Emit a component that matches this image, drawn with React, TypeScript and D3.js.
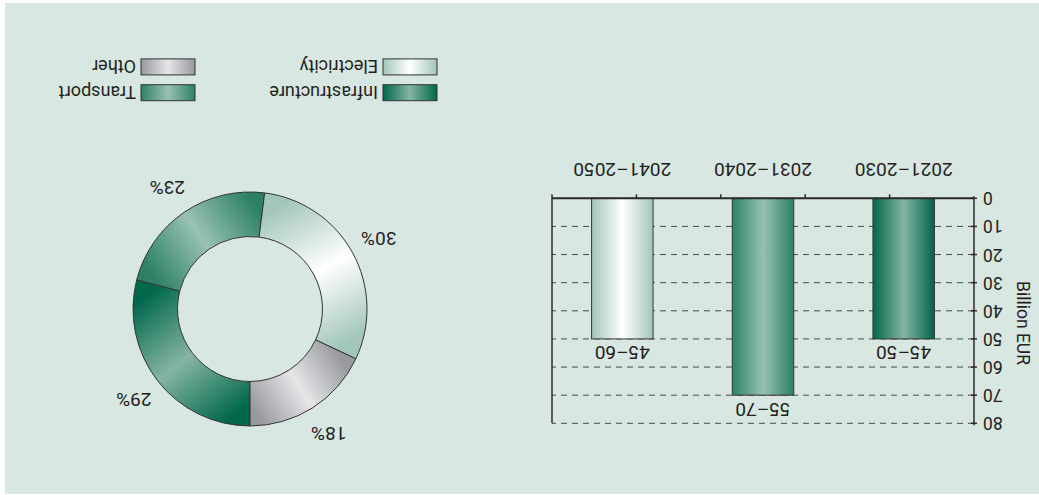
import React from "react";
import * as d3 from "d3";

// Bar chart: investment per decade (Billion EUR)
const periods = ["2021–2030", "2031–2040", "2041–2050"];
const barValues = [50, 70, 50];
const barLabels = ["45–50", "55–70", "45–60"];
const barKeys = ["infra", "transport", "elec"];
const yTicks = [0, 10, 20, 30, 40, 50, 60, 70, 80];

// Donut: share by sector
const sectors = ["Infrastructure", "Transport", "Electricity", "Other"];
const sectorKeys = ["infra", "transport", "elec", "other"];
const shares = [29, 23, 30, 18];

// Legend layout (two columns, two rows)
const legendColumns = [["Infrastructure", "Electricity"], ["Transport", "Other"]];

const palette: Record<string, [string, string]> = {
  infra: ["#00674b", "#85b5a2"],
  transport: ["#2d8066", "#98c2b1"],
  elec: ["#a2c6b8", "#ffffff"],
  other: ["#989a9f", "#e6e6e8"],
};

const W = 1039;
const H = 495;
const FONT = "Roboto, 'Liberation Sans', sans-serif";
const TEXT = "#231f20";

export default function App() {
  // bar chart geometry
  const x = d3.scaleBand<string>().domain(periods).range([65, 487]).padding(0);
  const y = d3.scaleLinear().domain([0, 80]).range([296.7, 71.7]);
  const minor = d3.scaleLinear().domain([0, 5]).range([65, 487]);
  const barW = x.bandwidth() * 0.437;

  // donut geometry
  const cx = 789;
  const cy = 186;
  const pie = d3.pie<number>().sort(null).value((d) => d);
  const arcs = pie(shares);
  const arc = d3.arc<d3.PieArcDatum<number>>().innerRadius(72.5).outerRadius(117);
  const labelArc = d3.arc<d3.PieArcDatum<number>>().innerRadius(147).outerRadius(147);
  const midR = 95;
  const pt = (a: number) => [Math.sin(a) * midR, -Math.cos(a) * midR];

  const nameToKey = (n: string) => sectorKeys[sectors.indexOf(n)];

  return (
    <svg
      width={W}
      height={H}
      style={{ position: "absolute", left: 0, top: 0, background: "#ffffff" }}
      fontFamily={FONT}
    >
      <defs>
        {Object.entries(palette).map(([k, [edge, mid]]) => (
          <linearGradient key={k} id={`g-${k}`} x1="0" y1="0" x2="1" y2="0">
            <stop offset="0" stopColor={edge} />
            <stop offset="0.5" stopColor={mid} />
            <stop offset="1" stopColor={edge} />
          </linearGradient>
        ))}
        {arcs.map((a, i) => {
          const [edge, mid] = palette[sectorKeys[i]];
          const [x1, y1] = pt(a.startAngle);
          const [x2, y2] = pt(a.endAngle);
          return (
            <linearGradient
              key={i}
              id={`p-${i}`}
              gradientUnits="userSpaceOnUse"
              x1={x1}
              y1={y1}
              x2={x2}
              y2={y2}
            >
              <stop offset="0" stopColor={edge} />
              <stop offset="0.5" stopColor={mid} />
              <stop offset="1" stopColor={edge} />
            </linearGradient>
          );
        })}
      </defs>
      <rect x={5} y={3} width={1034} height={491} fill="#d9e7e2" />
      <g transform={`rotate(180 ${W / 2} ${H / 2})`}>
        {/* grid lines */}
        {yTicks.slice(1).map((t) => (
          <line
            key={t}
            x1={65}
            x2={487}
            y1={y(t)}
            y2={y(t)}
            stroke="#4a4a4a"
            strokeWidth={1}
            strokeDasharray="6 5"
          />
        ))}
        {/* bars */}
        {periods.map((p, i) => {
          const bx = (x(p) as number) + (x.bandwidth() - barW) / 2;
          return (
            <g key={p}>
              <rect
                x={bx}
                y={y(barValues[i])}
                width={barW}
                height={y(0) - y(barValues[i])}
                fill={`url(#g-${barKeys[i]})`}
                stroke="#333"
                strokeWidth={1}
              />
              <text
                x={bx + barW / 2}
                y={y(barValues[i]) - 14}
                textAnchor="middle"
                dominantBaseline="central"
                fontSize={19}
                fill={TEXT}
              >
                {barLabels[i]}
              </text>
              <text
                x={bx + barW / 2}
                y={325.5}
                textAnchor="middle"
                dominantBaseline="central"
                fontSize={19}
                fill={TEXT}
              >
                {p}
              </text>
            </g>
          );
        })}
        {/* axes */}
        <line x1={487} x2={487} y1={y(0) + 4} y2={y(80)} stroke="#2b2b2b" strokeWidth={1.5} />
        <line x1={65} x2={487} y1={y(0)} y2={y(0)} stroke="#2b2b2b" strokeWidth={2} />
        {minor.ticks(5).slice(1, 5).map((t) => (
          <line key={t} x1={minor(t)} x2={minor(t)} y1={y(0)} y2={y(0) + 4} stroke="#2b2b2b" strokeWidth={1.5} />
        ))}
        <line x1={65} x2={65} y1={y(0) + 2} y2={y(80) - 2} stroke="#2b2b2b" strokeWidth={1.5} />
        {yTicks.map((t) => (
          <g key={t}>
            <line x1={62} x2={68} y1={y(t)} y2={y(t)} stroke="#2b2b2b" strokeWidth={1.5} />
            <text
              x={56}
              y={y(t)}
              textAnchor="end"
              dominantBaseline="central"
              fontSize={17.5}
              fill={TEXT}
            >
              {t}
            </text>
          </g>
        ))}
        <text
          transform="translate(16 172) rotate(-90)"
          textAnchor="middle"
          dominantBaseline="central"
          fontSize={17.5}
          fill={TEXT}
        >
          Billion EUR
        </text>

        {/* donut */}
        {arcs.map((a, i) => (
          <path
            key={i}
            d={arc(a) as string}
            transform={`translate(${cx} ${cy})`}
            fill={`url(#p-${i})`}
            stroke="#333"
            strokeWidth={1}
          />
        ))}
        {arcs.map((a, i) => {
          const [lx, ly] = labelArc.centroid(a);
          return (
            <text
              key={`l${i}`}
              x={cx + lx}
              y={cy + ly}
              textAnchor="middle"
              dominantBaseline="central"
              fontSize={19}
              fill={TEXT}
            >
              {shares[i]}%
            </text>
          );
        })}

        {/* legend */}
        {legendColumns.map((col, ci) =>
          col.map((name, ri) => {
            const lx = ci === 0 ? 602 : 844;
            const ly = 394.3 + ri * 25.8;
            return (
              <g key={name}>
                <rect
                  x={lx}
                  y={ly}
                  width={54}
                  height={16}
                  fill={`url(#g-${nameToKey(name)})`}
                  stroke="#333"
                  strokeWidth={1}
                />
                <text
                  x={lx + 59}
                  y={ly + 8}
                  dominantBaseline="central"
                  fontSize={18}
                  fill={TEXT}
                >
                  {name}
                </text>
              </g>
            );
          })
        )}
      </g>
    </svg>
  );
}
